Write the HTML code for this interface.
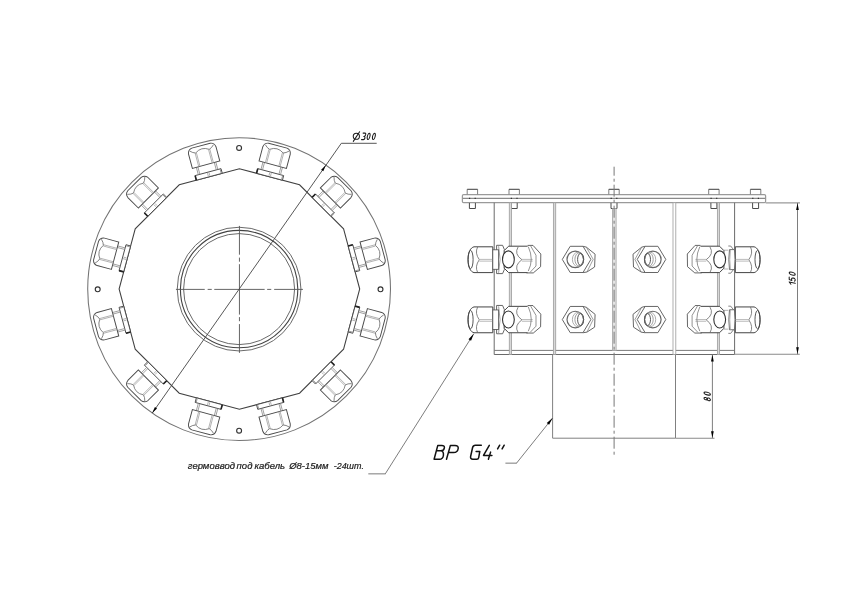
<!DOCTYPE html>
<html><head><meta charset="utf-8"><style>
html,body{margin:0;padding:0;background:#fff;}
body{width:849px;height:600px;overflow:hidden;}
svg{display:block;filter:grayscale(1);}
.t{font-family:"Liberation Sans",sans-serif;font-style:italic;fill:#1a1a1a;stroke:#1a1a1a;stroke-width:0.2;}
</style></head><body>
<svg width="849" height="600" viewBox="0 0 849 600">
<rect width="849" height="600" fill="#fff"/>
<g>
<circle cx="239.1" cy="289.1" r="151.4" fill="none" stroke="#737373" stroke-width="1.050"/>
<circle cx="380.5" cy="289.3" r="2.45" fill="none" stroke="#333" stroke-width="1.150"/>
<circle cx="97.7" cy="289.3" r="2.45" fill="none" stroke="#333" stroke-width="1.150"/>
<circle cx="239.1" cy="430.7" r="2.45" fill="none" stroke="#333" stroke-width="1.150"/>
<circle cx="239.1" cy="147.9" r="2.45" fill="none" stroke="#333" stroke-width="1.150"/>
<polygon points="359.7,289 343.58,228.85 299.55,184.82 239.4,168.7 179.25,184.82 135.22,228.85 119.1,289 135.22,349.15 179.25,393.18 239.4,409.3 299.55,393.18 343.58,349.15" fill="none" stroke="#404040" stroke-width="1.050"/>
<circle cx="239.1" cy="289.1" r="61.85" fill="none" stroke="#6a6a6a" stroke-width="1.000"/>
<circle cx="239.1" cy="289.1" r="58.7" fill="none" stroke="#444" stroke-width="1.100"/>
<circle cx="239.1" cy="289.1" r="55.5" fill="none" stroke="#6a6a6a" stroke-width="1.000"/>
<line x1="175.95" y1="289.4" x2="204.75" y2="289.4" stroke="#555" stroke-width="0.900"/>
<line x1="239.45" y1="225.9" x2="239.45" y2="254.7" stroke="#555" stroke-width="0.900"/>
<line x1="207.65" y1="289.4" x2="211.75" y2="289.4" stroke="#555" stroke-width="0.900"/>
<line x1="239.45" y1="257.6" x2="239.45" y2="261.7" stroke="#555" stroke-width="0.900"/>
<line x1="214.25" y1="289.4" x2="264.65" y2="289.4" stroke="#555" stroke-width="0.900"/>
<line x1="239.45" y1="264.2" x2="239.45" y2="314.6" stroke="#555" stroke-width="0.900"/>
<line x1="267.15" y1="289.4" x2="271.25" y2="289.4" stroke="#555" stroke-width="0.900"/>
<line x1="239.45" y1="317.1" x2="239.45" y2="321.2" stroke="#555" stroke-width="0.900"/>
<line x1="274.15" y1="289.4" x2="302.95" y2="289.4" stroke="#555" stroke-width="0.900"/>
<line x1="239.45" y1="324.1" x2="239.45" y2="352.9" stroke="#555" stroke-width="0.900"/>
<g transform="translate(351.64,258.93) rotate(75)">
<rect x="-13.4" y="-4.8" width="26.8" height="4.8" fill="#fff" stroke="#4a4a4a" stroke-width="0.900"/>
<line x1="-13.4" y1="0" x2="-13.4" y2="-4.8" stroke="#222" stroke-width="1.600"/>
<line x1="12.4" y1="-0.3" x2="12.4" y2="-4.6" stroke="#888" stroke-width="0.800"/>
<line x1="-0.8" y1="-0.8" x2="-0.8" y2="-4" stroke="#999" stroke-width="0.700"/>
<line x1="0.8" y1="-0.8" x2="0.8" y2="-4" stroke="#999" stroke-width="0.700"/>
<path d="M-10.1,-4.8 V-12.5 M-8.5,-4.8 V-12.5 M10.1,-4.8 V-12.5 M8.5,-4.8 V-12.5" stroke="#8a8a8a" stroke-width="0.750" fill="none"/>
<path d="M-14.2,-12.5 L-14.2,-27.3 Q-13.6,-31.6 -9.5,-32.2 L9.5,-32.2 Q13.6,-31.6 14.2,-27.3 L14.2,-12.5 Z" fill="#fff" stroke="#4a4a4a" stroke-width="0.950"/>
<path d="M-7.6,-12.6 V-26.6 M-6.3,-12.6 V-26.3 M7.6,-12.6 V-26.6 M6.3,-12.6 V-26.3" stroke="#9a9a9a" stroke-width="0.700" fill="none"/>
<path d="M-7,-26.5 Q0,-31.4 7,-26.5 M-7,-26.5 Q-9.8,-27.2 -12.3,-29.9 M7,-26.5 Q9.8,-27.2 12.3,-29.9" fill="none" stroke="#666" stroke-width="0.750"/>
</g>
<g transform="translate(321.57,206.83) rotate(45)">
<rect x="-13.4" y="-4.8" width="26.8" height="4.8" fill="#fff" stroke="#4a4a4a" stroke-width="0.900"/>
<line x1="-13.4" y1="0" x2="-13.4" y2="-4.8" stroke="#222" stroke-width="1.600"/>
<line x1="12.4" y1="-0.3" x2="12.4" y2="-4.6" stroke="#888" stroke-width="0.800"/>
<line x1="-0.8" y1="-0.8" x2="-0.8" y2="-4" stroke="#999" stroke-width="0.700"/>
<line x1="0.8" y1="-0.8" x2="0.8" y2="-4" stroke="#999" stroke-width="0.700"/>
<path d="M-10.1,-4.8 V-12.5 M-8.5,-4.8 V-12.5 M10.1,-4.8 V-12.5 M8.5,-4.8 V-12.5" stroke="#8a8a8a" stroke-width="0.750" fill="none"/>
<path d="M-14.2,-12.5 L-14.2,-27.3 Q-13.6,-31.6 -9.5,-32.2 L9.5,-32.2 Q13.6,-31.6 14.2,-27.3 L14.2,-12.5 Z" fill="#fff" stroke="#4a4a4a" stroke-width="0.950"/>
<path d="M-7.6,-12.6 V-26.6 M-6.3,-12.6 V-26.3 M7.6,-12.6 V-26.6 M6.3,-12.6 V-26.3" stroke="#9a9a9a" stroke-width="0.700" fill="none"/>
<path d="M-7,-26.5 Q0,-31.4 7,-26.5 M-7,-26.5 Q-9.8,-27.2 -12.3,-29.9 M7,-26.5 Q9.8,-27.2 12.3,-29.9" fill="none" stroke="#666" stroke-width="0.750"/>
</g>
<g transform="translate(269.48,176.76) rotate(15)">
<rect x="-13.4" y="-4.8" width="26.8" height="4.8" fill="#fff" stroke="#4a4a4a" stroke-width="0.900"/>
<line x1="-13.4" y1="0" x2="-13.4" y2="-4.8" stroke="#222" stroke-width="1.600"/>
<line x1="12.4" y1="-0.3" x2="12.4" y2="-4.6" stroke="#888" stroke-width="0.800"/>
<line x1="-0.8" y1="-0.8" x2="-0.8" y2="-4" stroke="#999" stroke-width="0.700"/>
<line x1="0.8" y1="-0.8" x2="0.8" y2="-4" stroke="#999" stroke-width="0.700"/>
<path d="M-10.1,-4.8 V-12.5 M-8.5,-4.8 V-12.5 M10.1,-4.8 V-12.5 M8.5,-4.8 V-12.5" stroke="#8a8a8a" stroke-width="0.750" fill="none"/>
<path d="M-14.2,-12.5 L-14.2,-27.3 Q-13.6,-31.6 -9.5,-32.2 L9.5,-32.2 Q13.6,-31.6 14.2,-27.3 L14.2,-12.5 Z" fill="#fff" stroke="#4a4a4a" stroke-width="0.950"/>
<path d="M-7.6,-12.6 V-26.6 M-6.3,-12.6 V-26.3 M7.6,-12.6 V-26.6 M6.3,-12.6 V-26.3" stroke="#9a9a9a" stroke-width="0.700" fill="none"/>
<path d="M-7,-26.5 Q0,-31.4 7,-26.5 M-7,-26.5 Q-9.8,-27.2 -12.3,-29.9 M7,-26.5 Q9.8,-27.2 12.3,-29.9" fill="none" stroke="#666" stroke-width="0.750"/>
</g>
<g transform="translate(209.32,176.76) rotate(-15)">
<rect x="-13.4" y="-4.8" width="26.8" height="4.8" fill="#fff" stroke="#4a4a4a" stroke-width="0.900"/>
<line x1="-13.4" y1="0" x2="-13.4" y2="-4.8" stroke="#222" stroke-width="1.600"/>
<line x1="12.4" y1="-0.3" x2="12.4" y2="-4.6" stroke="#888" stroke-width="0.800"/>
<line x1="-0.8" y1="-0.8" x2="-0.8" y2="-4" stroke="#999" stroke-width="0.700"/>
<line x1="0.8" y1="-0.8" x2="0.8" y2="-4" stroke="#999" stroke-width="0.700"/>
<path d="M-10.1,-4.8 V-12.5 M-8.5,-4.8 V-12.5 M10.1,-4.8 V-12.5 M8.5,-4.8 V-12.5" stroke="#8a8a8a" stroke-width="0.750" fill="none"/>
<path d="M-14.2,-12.5 L-14.2,-27.3 Q-13.6,-31.6 -9.5,-32.2 L9.5,-32.2 Q13.6,-31.6 14.2,-27.3 L14.2,-12.5 Z" fill="#fff" stroke="#4a4a4a" stroke-width="0.950"/>
<path d="M-7.6,-12.6 V-26.6 M-6.3,-12.6 V-26.3 M7.6,-12.6 V-26.6 M6.3,-12.6 V-26.3" stroke="#9a9a9a" stroke-width="0.700" fill="none"/>
<path d="M-7,-26.5 Q0,-31.4 7,-26.5 M-7,-26.5 Q-9.8,-27.2 -12.3,-29.9 M7,-26.5 Q9.8,-27.2 12.3,-29.9" fill="none" stroke="#666" stroke-width="0.750"/>
</g>
<g transform="translate(157.23,206.83) rotate(-45)">
<rect x="-13.4" y="-4.8" width="26.8" height="4.8" fill="#fff" stroke="#4a4a4a" stroke-width="0.900"/>
<line x1="-13.4" y1="0" x2="-13.4" y2="-4.8" stroke="#222" stroke-width="1.600"/>
<line x1="12.4" y1="-0.3" x2="12.4" y2="-4.6" stroke="#888" stroke-width="0.800"/>
<line x1="-0.8" y1="-0.8" x2="-0.8" y2="-4" stroke="#999" stroke-width="0.700"/>
<line x1="0.8" y1="-0.8" x2="0.8" y2="-4" stroke="#999" stroke-width="0.700"/>
<path d="M-10.1,-4.8 V-12.5 M-8.5,-4.8 V-12.5 M10.1,-4.8 V-12.5 M8.5,-4.8 V-12.5" stroke="#8a8a8a" stroke-width="0.750" fill="none"/>
<path d="M-14.2,-12.5 L-14.2,-27.3 Q-13.6,-31.6 -9.5,-32.2 L9.5,-32.2 Q13.6,-31.6 14.2,-27.3 L14.2,-12.5 Z" fill="#fff" stroke="#4a4a4a" stroke-width="0.950"/>
<path d="M-7.6,-12.6 V-26.6 M-6.3,-12.6 V-26.3 M7.6,-12.6 V-26.6 M6.3,-12.6 V-26.3" stroke="#9a9a9a" stroke-width="0.700" fill="none"/>
<path d="M-7,-26.5 Q0,-31.4 7,-26.5 M-7,-26.5 Q-9.8,-27.2 -12.3,-29.9 M7,-26.5 Q9.8,-27.2 12.3,-29.9" fill="none" stroke="#666" stroke-width="0.750"/>
</g>
<g transform="translate(127.16,258.92) rotate(-75)">
<rect x="-13.4" y="-4.8" width="26.8" height="4.8" fill="#fff" stroke="#4a4a4a" stroke-width="0.900"/>
<line x1="-13.4" y1="0" x2="-13.4" y2="-4.8" stroke="#222" stroke-width="1.600"/>
<line x1="12.4" y1="-0.3" x2="12.4" y2="-4.6" stroke="#888" stroke-width="0.800"/>
<line x1="-0.8" y1="-0.8" x2="-0.8" y2="-4" stroke="#999" stroke-width="0.700"/>
<line x1="0.8" y1="-0.8" x2="0.8" y2="-4" stroke="#999" stroke-width="0.700"/>
<path d="M-10.1,-4.8 V-12.5 M-8.5,-4.8 V-12.5 M10.1,-4.8 V-12.5 M8.5,-4.8 V-12.5" stroke="#8a8a8a" stroke-width="0.750" fill="none"/>
<path d="M-14.2,-12.5 L-14.2,-27.3 Q-13.6,-31.6 -9.5,-32.2 L9.5,-32.2 Q13.6,-31.6 14.2,-27.3 L14.2,-12.5 Z" fill="#fff" stroke="#4a4a4a" stroke-width="0.950"/>
<path d="M-7.6,-12.6 V-26.6 M-6.3,-12.6 V-26.3 M7.6,-12.6 V-26.6 M6.3,-12.6 V-26.3" stroke="#9a9a9a" stroke-width="0.700" fill="none"/>
<path d="M-7,-26.5 Q0,-31.4 7,-26.5 M-7,-26.5 Q-9.8,-27.2 -12.3,-29.9 M7,-26.5 Q9.8,-27.2 12.3,-29.9" fill="none" stroke="#666" stroke-width="0.750"/>
</g>
<g transform="translate(127.16,319.07) rotate(-105)">
<rect x="-13.4" y="-4.8" width="26.8" height="4.8" fill="#fff" stroke="#4a4a4a" stroke-width="0.900"/>
<line x1="-13.4" y1="0" x2="-13.4" y2="-4.8" stroke="#222" stroke-width="1.600"/>
<line x1="12.4" y1="-0.3" x2="12.4" y2="-4.6" stroke="#888" stroke-width="0.800"/>
<line x1="-0.8" y1="-0.8" x2="-0.8" y2="-4" stroke="#999" stroke-width="0.700"/>
<line x1="0.8" y1="-0.8" x2="0.8" y2="-4" stroke="#999" stroke-width="0.700"/>
<path d="M-10.1,-4.8 V-12.5 M-8.5,-4.8 V-12.5 M10.1,-4.8 V-12.5 M8.5,-4.8 V-12.5" stroke="#8a8a8a" stroke-width="0.750" fill="none"/>
<path d="M-14.2,-12.5 L-14.2,-27.3 Q-13.6,-31.6 -9.5,-32.2 L9.5,-32.2 Q13.6,-31.6 14.2,-27.3 L14.2,-12.5 Z" fill="#fff" stroke="#4a4a4a" stroke-width="0.950"/>
<path d="M-7.6,-12.6 V-26.6 M-6.3,-12.6 V-26.3 M7.6,-12.6 V-26.6 M6.3,-12.6 V-26.3" stroke="#9a9a9a" stroke-width="0.700" fill="none"/>
<path d="M-7,-26.5 Q0,-31.4 7,-26.5 M-7,-26.5 Q-9.8,-27.2 -12.3,-29.9 M7,-26.5 Q9.8,-27.2 12.3,-29.9" fill="none" stroke="#666" stroke-width="0.750"/>
</g>
<g transform="translate(157.23,371.17) rotate(-135)">
<rect x="-13.4" y="-4.8" width="26.8" height="4.8" fill="#fff" stroke="#4a4a4a" stroke-width="0.900"/>
<line x1="-13.4" y1="0" x2="-13.4" y2="-4.8" stroke="#222" stroke-width="1.600"/>
<line x1="12.4" y1="-0.3" x2="12.4" y2="-4.6" stroke="#888" stroke-width="0.800"/>
<line x1="-0.8" y1="-0.8" x2="-0.8" y2="-4" stroke="#999" stroke-width="0.700"/>
<line x1="0.8" y1="-0.8" x2="0.8" y2="-4" stroke="#999" stroke-width="0.700"/>
<path d="M-10.1,-4.8 V-12.5 M-8.5,-4.8 V-12.5 M10.1,-4.8 V-12.5 M8.5,-4.8 V-12.5" stroke="#8a8a8a" stroke-width="0.750" fill="none"/>
<path d="M-14.2,-12.5 L-14.2,-27.3 Q-13.6,-31.6 -9.5,-32.2 L9.5,-32.2 Q13.6,-31.6 14.2,-27.3 L14.2,-12.5 Z" fill="#fff" stroke="#4a4a4a" stroke-width="0.950"/>
<path d="M-7.6,-12.6 V-26.6 M-6.3,-12.6 V-26.3 M7.6,-12.6 V-26.6 M6.3,-12.6 V-26.3" stroke="#9a9a9a" stroke-width="0.700" fill="none"/>
<path d="M-7,-26.5 Q0,-31.4 7,-26.5 M-7,-26.5 Q-9.8,-27.2 -12.3,-29.9 M7,-26.5 Q9.8,-27.2 12.3,-29.9" fill="none" stroke="#666" stroke-width="0.750"/>
</g>
<g transform="translate(209.33,401.24) rotate(-165)">
<rect x="-13.4" y="-4.8" width="26.8" height="4.8" fill="#fff" stroke="#4a4a4a" stroke-width="0.900"/>
<line x1="-13.4" y1="0" x2="-13.4" y2="-4.8" stroke="#222" stroke-width="1.600"/>
<line x1="12.4" y1="-0.3" x2="12.4" y2="-4.6" stroke="#888" stroke-width="0.800"/>
<line x1="-0.8" y1="-0.8" x2="-0.8" y2="-4" stroke="#999" stroke-width="0.700"/>
<line x1="0.8" y1="-0.8" x2="0.8" y2="-4" stroke="#999" stroke-width="0.700"/>
<path d="M-10.1,-4.8 V-12.5 M-8.5,-4.8 V-12.5 M10.1,-4.8 V-12.5 M8.5,-4.8 V-12.5" stroke="#8a8a8a" stroke-width="0.750" fill="none"/>
<path d="M-14.2,-12.5 L-14.2,-27.3 Q-13.6,-31.6 -9.5,-32.2 L9.5,-32.2 Q13.6,-31.6 14.2,-27.3 L14.2,-12.5 Z" fill="#fff" stroke="#4a4a4a" stroke-width="0.950"/>
<path d="M-7.6,-12.6 V-26.6 M-6.3,-12.6 V-26.3 M7.6,-12.6 V-26.6 M6.3,-12.6 V-26.3" stroke="#9a9a9a" stroke-width="0.700" fill="none"/>
<path d="M-7,-26.5 Q0,-31.4 7,-26.5 M-7,-26.5 Q-9.8,-27.2 -12.3,-29.9 M7,-26.5 Q9.8,-27.2 12.3,-29.9" fill="none" stroke="#666" stroke-width="0.750"/>
</g>
<g transform="translate(269.47,401.24) rotate(-195)">
<rect x="-13.4" y="-4.8" width="26.8" height="4.8" fill="#fff" stroke="#4a4a4a" stroke-width="0.900"/>
<line x1="-13.4" y1="0" x2="-13.4" y2="-4.8" stroke="#222" stroke-width="1.600"/>
<line x1="12.4" y1="-0.3" x2="12.4" y2="-4.6" stroke="#888" stroke-width="0.800"/>
<line x1="-0.8" y1="-0.8" x2="-0.8" y2="-4" stroke="#999" stroke-width="0.700"/>
<line x1="0.8" y1="-0.8" x2="0.8" y2="-4" stroke="#999" stroke-width="0.700"/>
<path d="M-10.1,-4.8 V-12.5 M-8.5,-4.8 V-12.5 M10.1,-4.8 V-12.5 M8.5,-4.8 V-12.5" stroke="#8a8a8a" stroke-width="0.750" fill="none"/>
<path d="M-14.2,-12.5 L-14.2,-27.3 Q-13.6,-31.6 -9.5,-32.2 L9.5,-32.2 Q13.6,-31.6 14.2,-27.3 L14.2,-12.5 Z" fill="#fff" stroke="#4a4a4a" stroke-width="0.950"/>
<path d="M-7.6,-12.6 V-26.6 M-6.3,-12.6 V-26.3 M7.6,-12.6 V-26.6 M6.3,-12.6 V-26.3" stroke="#9a9a9a" stroke-width="0.700" fill="none"/>
<path d="M-7,-26.5 Q0,-31.4 7,-26.5 M-7,-26.5 Q-9.8,-27.2 -12.3,-29.9 M7,-26.5 Q9.8,-27.2 12.3,-29.9" fill="none" stroke="#666" stroke-width="0.750"/>
</g>
<g transform="translate(321.57,371.17) rotate(-225)">
<rect x="-13.4" y="-4.8" width="26.8" height="4.8" fill="#fff" stroke="#4a4a4a" stroke-width="0.900"/>
<line x1="-13.4" y1="0" x2="-13.4" y2="-4.8" stroke="#222" stroke-width="1.600"/>
<line x1="12.4" y1="-0.3" x2="12.4" y2="-4.6" stroke="#888" stroke-width="0.800"/>
<line x1="-0.8" y1="-0.8" x2="-0.8" y2="-4" stroke="#999" stroke-width="0.700"/>
<line x1="0.8" y1="-0.8" x2="0.8" y2="-4" stroke="#999" stroke-width="0.700"/>
<path d="M-10.1,-4.8 V-12.5 M-8.5,-4.8 V-12.5 M10.1,-4.8 V-12.5 M8.5,-4.8 V-12.5" stroke="#8a8a8a" stroke-width="0.750" fill="none"/>
<path d="M-14.2,-12.5 L-14.2,-27.3 Q-13.6,-31.6 -9.5,-32.2 L9.5,-32.2 Q13.6,-31.6 14.2,-27.3 L14.2,-12.5 Z" fill="#fff" stroke="#4a4a4a" stroke-width="0.950"/>
<path d="M-7.6,-12.6 V-26.6 M-6.3,-12.6 V-26.3 M7.6,-12.6 V-26.6 M6.3,-12.6 V-26.3" stroke="#9a9a9a" stroke-width="0.700" fill="none"/>
<path d="M-7,-26.5 Q0,-31.4 7,-26.5 M-7,-26.5 Q-9.8,-27.2 -12.3,-29.9 M7,-26.5 Q9.8,-27.2 12.3,-29.9" fill="none" stroke="#666" stroke-width="0.750"/>
</g>
<g transform="translate(351.64,319.07) rotate(-255)">
<rect x="-13.4" y="-4.8" width="26.8" height="4.8" fill="#fff" stroke="#4a4a4a" stroke-width="0.900"/>
<line x1="-13.4" y1="0" x2="-13.4" y2="-4.8" stroke="#222" stroke-width="1.600"/>
<line x1="12.4" y1="-0.3" x2="12.4" y2="-4.6" stroke="#888" stroke-width="0.800"/>
<line x1="-0.8" y1="-0.8" x2="-0.8" y2="-4" stroke="#999" stroke-width="0.700"/>
<line x1="0.8" y1="-0.8" x2="0.8" y2="-4" stroke="#999" stroke-width="0.700"/>
<path d="M-10.1,-4.8 V-12.5 M-8.5,-4.8 V-12.5 M10.1,-4.8 V-12.5 M8.5,-4.8 V-12.5" stroke="#8a8a8a" stroke-width="0.750" fill="none"/>
<path d="M-14.2,-12.5 L-14.2,-27.3 Q-13.6,-31.6 -9.5,-32.2 L9.5,-32.2 Q13.6,-31.6 14.2,-27.3 L14.2,-12.5 Z" fill="#fff" stroke="#4a4a4a" stroke-width="0.950"/>
<path d="M-7.6,-12.6 V-26.6 M-6.3,-12.6 V-26.3 M7.6,-12.6 V-26.6 M6.3,-12.6 V-26.3" stroke="#9a9a9a" stroke-width="0.700" fill="none"/>
<path d="M-7,-26.5 Q0,-31.4 7,-26.5 M-7,-26.5 Q-9.8,-27.2 -12.3,-29.9 M7,-26.5 Q9.8,-27.2 12.3,-29.9" fill="none" stroke="#666" stroke-width="0.750"/>
</g>
<polyline points="152.26,413.12 341.3,143.3 376.7,143.3" fill="none" stroke="#444" stroke-width="0.900"/>
<polygon points="325.94,165.08 323.28,171.15 321.15,169.66" fill="#000"/>
<polygon points="152.26,413.12 154.92,407.05 157.05,408.54" fill="#000"/>
<rect x="462.4" y="194.5" width="303.2" height="8.2" rx="1.2" fill="none" stroke="#9a9a9a" stroke-width="1.250"/>
<line x1="462.8" y1="198.4" x2="765.2" y2="198.4" stroke="#8a8a8a" stroke-width="1.100"/>
<path d="M467.2,194.3 L467.2,189.3 M477.6,189.3 L477.6,194.3" fill="none" stroke="#777" stroke-width="0.950"/>
<line x1="467.2" y1="189.3" x2="477.6" y2="189.3" stroke="#444" stroke-width="1.050"/>
<path d="M469.4,202.9 L469.4,208.5 L475.4,208.5 L475.4,202.9" fill="none" stroke="#4a4a4a" stroke-width="1.000"/>
<line x1="469" y1="198.4" x2="470.2" y2="198.4" stroke="#333" stroke-width="1.300"/>
<line x1="474.6" y1="198.4" x2="475.8" y2="198.4" stroke="#333" stroke-width="1.300"/>
<path d="M509,194.3 L509,189.3 M519.4,189.3 L519.4,194.3" fill="none" stroke="#777" stroke-width="0.950"/>
<line x1="509" y1="189.3" x2="519.4" y2="189.3" stroke="#444" stroke-width="1.050"/>
<path d="M511.2,202.9 L511.2,208.5 L517.2,208.5 L517.2,202.9" fill="none" stroke="#4a4a4a" stroke-width="1.000"/>
<line x1="510.8" y1="198.4" x2="512" y2="198.4" stroke="#333" stroke-width="1.300"/>
<line x1="516.4" y1="198.4" x2="517.6" y2="198.4" stroke="#333" stroke-width="1.300"/>
<path d="M608.8,194.3 L608.8,189.3 M619.2,189.3 L619.2,194.3" fill="none" stroke="#777" stroke-width="0.950"/>
<line x1="608.8" y1="189.3" x2="619.2" y2="189.3" stroke="#444" stroke-width="1.050"/>
<path d="M611,202.9 L611,208.5 L617,208.5 L617,202.9" fill="none" stroke="#4a4a4a" stroke-width="1.000"/>
<line x1="610.6" y1="198.4" x2="611.8" y2="198.4" stroke="#333" stroke-width="1.300"/>
<line x1="616.2" y1="198.4" x2="617.4" y2="198.4" stroke="#333" stroke-width="1.300"/>
<path d="M708.7,194.3 L708.7,189.3 M719.1,189.3 L719.1,194.3" fill="none" stroke="#777" stroke-width="0.950"/>
<line x1="708.7" y1="189.3" x2="719.1" y2="189.3" stroke="#444" stroke-width="1.050"/>
<path d="M710.9,202.9 L710.9,208.5 L716.9,208.5 L716.9,202.9" fill="none" stroke="#4a4a4a" stroke-width="1.000"/>
<line x1="710.5" y1="198.4" x2="711.7" y2="198.4" stroke="#333" stroke-width="1.300"/>
<line x1="716.1" y1="198.4" x2="717.3" y2="198.4" stroke="#333" stroke-width="1.300"/>
<path d="M750.4,194.3 L750.4,189.3 M760.8,189.3 L760.8,194.3" fill="none" stroke="#777" stroke-width="0.950"/>
<line x1="750.4" y1="189.3" x2="760.8" y2="189.3" stroke="#444" stroke-width="1.050"/>
<path d="M752.6,202.9 L752.6,208.5 L758.6,208.5 L758.6,202.9" fill="none" stroke="#4a4a4a" stroke-width="1.000"/>
<line x1="752.2" y1="198.4" x2="753.4" y2="198.4" stroke="#333" stroke-width="1.300"/>
<line x1="757.8" y1="198.4" x2="759" y2="198.4" stroke="#333" stroke-width="1.300"/>
<path d="M494.2,202.7 L494.2,354.5 L734.6,354.5 L734.6,202.7" fill="none" stroke="#6a6a6a" stroke-width="1.000"/>
<line x1="494.2" y1="350.4" x2="734.6" y2="350.4" stroke="#7a7a7a" stroke-width="1.000"/>
<rect x="509.3" y="202.7" width="2.2" height="151.8" fill="#d8d8d8" stroke="#a0a0a0" stroke-width="0.850"/>
<rect x="717.4" y="202.7" width="2.1" height="151.8" fill="#d8d8d8" stroke="#a0a0a0" stroke-width="0.850"/>
<rect x="553.4" y="202.7" width="2.3" height="151.8" fill="#d8d8d8" stroke="#a0a0a0" stroke-width="0.850"/>
<rect x="673.0" y="202.7" width="2.8" height="151.8" fill="#fff" stroke="#a0a0a0" stroke-width="0.850"/>
<rect x="612.6" y="208.6" width="3.5" height="141.8" fill="#e4e4e4" stroke="#a4a4a4" stroke-width="0.850"/>
<path d="M552.6,354.5 L552.6,438.2 L675.5,438.2 L675.5,354.5" fill="none" stroke="#808080" stroke-width="1.000"/>
<line x1="614.1" y1="166.7" x2="614.1" y2="455.5" stroke="#777" stroke-width="1.000" stroke-dasharray="12 3 3 3" stroke-dashoffset="3"/>
<line x1="765.6" y1="202.9" x2="800" y2="202.9" stroke="#9a9a9a" stroke-width="1.200"/>
<line x1="734.6" y1="354.3" x2="799.8" y2="354.3" stroke="#8a8a8a" stroke-width="1.100"/>
<line x1="797.5" y1="202.9" x2="797.5" y2="354.3" stroke="#777" stroke-width="0.950"/>
<polygon points="797.5,203.1 798.85,209.9 796.15,209.9" fill="#000"/>
<polygon points="797.5,354.1 796.15,347.3 798.85,347.3" fill="#000"/>
<line x1="675.6" y1="438.2" x2="714.5" y2="438.2" stroke="#8a8a8a" stroke-width="1.100"/>
<line x1="712.4" y1="354.5" x2="712.4" y2="438.2" stroke="#777" stroke-width="0.950"/>
<polygon points="712.4,354.7 713.75,361.5 711.05,361.5" fill="#000"/>
<polygon points="712.4,438 711.05,431.2 713.75,431.2" fill="#000"/>
<g><path d="M492.8,246.8 L474,246.8 C470.6,247.6 468,252 468,259.7 C468,267.4 470.6,271.8 474,272.6 L492.8,272.6 Z" fill="#fff" stroke="#444" stroke-width="1.000"/>
<ellipse cx="470.6" cy="259.5" rx="2.5" ry="9.1" fill="none" stroke="#444" stroke-width="0.900"/>
<path d="M477.6,247 Q474.6,253 479.3,259.7 Q474.6,266.4 477.6,272.4" fill="none" stroke="#666" stroke-width="0.800"/>
<line x1="479.3" y1="259.4" x2="492.8" y2="259.4" stroke="#aaa" stroke-width="0.800"/>
<line x1="479.3" y1="261.1" x2="492.8" y2="261.1" stroke="#aaa" stroke-width="0.800"/>
<path d="M496.6,245.3 L502.6,245.3 L504.4,249.6 L504.4,269.4 L502.6,273.6 L496.6,273.6 Z" fill="#fff" stroke="#555" stroke-width="0.900"/>
<path d="M498.6,246.2 Q501.6,259.5 498.6,272.8" fill="none" stroke="#888" stroke-width="0.800"/>
<rect x="492.8" y="249.8" width="5.8" height="19.5" fill="#fff" stroke="#555" stroke-width="0.850"/>
<path d="M527.6,246.2 L508.6,246.2 L504.2,250.6 L504.2,268.2 L508.6,272.6 L527.6,272.6" fill="#fff" stroke="#444" stroke-width="1.000"/>
<ellipse cx="508.4" cy="259.4" rx="5.9" ry="8.5" fill="#fff" stroke="#333" stroke-width="1.100"/>
<path d="M518.1,247 Q513.8,254 521.9,259.7 Q513.8,265.4 518.1,272.4" fill="none" stroke="#666" stroke-width="0.800"/>
<line x1="521.9" y1="259.4" x2="532.7" y2="259.4" stroke="#aaa" stroke-width="0.800"/>
<line x1="521.9" y1="261.1" x2="532.7" y2="261.1" stroke="#aaa" stroke-width="0.800"/>
<path d="M527.6,245.4 L533,245.4 L540.8,254 L540.6,266.7 L533.3,272.9 L526.4,272.9" fill="none" stroke="#555" stroke-width="0.900"/>
<path d="M528.3,246.7 Q534.2,259.5 528.3,271" fill="none" stroke="#777" stroke-width="0.800"/>
<path d="M530.7,246 L536,255.3 L536,266 L530.2,272.2" fill="none" stroke="#777" stroke-width="0.800"/>
<path d="M583,246.3 L586.3,247.1 L595.1,254.2 L594.6,267 L586.9,272 L583,272.6" fill="#fff" stroke="#555" stroke-width="0.900"/>
<polygon points="562.3,259.4 570.2,246.3 583,246.3 590.9,259.4 583,272.5 570.2,272.5" fill="#fff" stroke="#555" stroke-width="0.900"/>
<path d="M586.3,247.1 L593.2,259.4 L586.9,272" fill="none" stroke="#777" stroke-width="0.700"/>
<circle cx="575.3" cy="259.4" r="8.3" fill="none" stroke="#666" stroke-width="1.200"/>
<ellipse cx="578" cy="259.4" rx="5.6" ry="7.2" fill="none" stroke="#999" stroke-width="0.800"/>
<ellipse cx="579.2" cy="259.4" rx="4.3" ry="6.6" fill="none" stroke="#888" stroke-width="0.800"/>
<ellipse cx="580.6" cy="259.4" rx="3" ry="6" fill="none" stroke="#555" stroke-width="1.000"/>
<path d="M492.8,306.95 L474,306.95 C470.6,307.75 468,312.15 468,319.85 C468,327.55 470.6,331.95 474,332.75 L492.8,332.75 Z" fill="#fff" stroke="#444" stroke-width="1.000"/>
<ellipse cx="470.6" cy="319.65" rx="2.5" ry="9.1" fill="none" stroke="#444" stroke-width="0.900"/>
<path d="M477.6,307.15 Q474.6,313.15 479.3,319.85 Q474.6,326.55 477.6,332.55" fill="none" stroke="#666" stroke-width="0.800"/>
<line x1="479.3" y1="319.55" x2="492.8" y2="319.55" stroke="#aaa" stroke-width="0.800"/>
<line x1="479.3" y1="321.25" x2="492.8" y2="321.25" stroke="#aaa" stroke-width="0.800"/>
<path d="M496.6,305.45 L502.6,305.45 L504.4,309.75 L504.4,329.55 L502.6,333.75 L496.6,333.75 Z" fill="#fff" stroke="#555" stroke-width="0.900"/>
<path d="M498.6,306.35 Q501.6,319.65 498.6,332.95" fill="none" stroke="#888" stroke-width="0.800"/>
<rect x="492.8" y="309.95" width="5.8" height="19.5" fill="#fff" stroke="#555" stroke-width="0.850"/>
<path d="M527.6,306.35 L508.6,306.35 L504.2,310.75 L504.2,328.35 L508.6,332.75 L527.6,332.75" fill="#fff" stroke="#444" stroke-width="1.000"/>
<ellipse cx="508.4" cy="319.55" rx="5.9" ry="8.5" fill="#fff" stroke="#333" stroke-width="1.100"/>
<path d="M518.1,307.15 Q513.8,314.15 521.9,319.85 Q513.8,325.55 518.1,332.55" fill="none" stroke="#666" stroke-width="0.800"/>
<line x1="521.9" y1="319.55" x2="532.7" y2="319.55" stroke="#aaa" stroke-width="0.800"/>
<line x1="521.9" y1="321.25" x2="532.7" y2="321.25" stroke="#aaa" stroke-width="0.800"/>
<path d="M527.6,305.55 L533,305.55 L540.8,314.15 L540.6,326.85 L533.3,333.05 L526.4,333.05" fill="none" stroke="#555" stroke-width="0.900"/>
<path d="M528.3,306.85 Q534.2,319.65 528.3,331.15" fill="none" stroke="#777" stroke-width="0.800"/>
<path d="M530.7,306.15 L536,315.45 L536,326.15 L530.2,332.35" fill="none" stroke="#777" stroke-width="0.800"/>
<path d="M583,306.45 L586.3,307.25 L595.1,314.35 L594.6,327.15 L586.9,332.15 L583,332.75" fill="#fff" stroke="#555" stroke-width="0.900"/>
<polygon points="562.3,319.55 570.2,306.45 583,306.45 590.9,319.55 583,332.65 570.2,332.65" fill="#fff" stroke="#555" stroke-width="0.900"/>
<path d="M586.3,307.25 L593.2,319.55 L586.9,332.15" fill="none" stroke="#777" stroke-width="0.700"/>
<circle cx="575.3" cy="319.55" r="8.3" fill="none" stroke="#666" stroke-width="1.200"/>
<ellipse cx="578" cy="319.55" rx="5.6" ry="7.2" fill="none" stroke="#999" stroke-width="0.800"/>
<ellipse cx="579.2" cy="319.55" rx="4.3" ry="6.6" fill="none" stroke="#888" stroke-width="0.800"/>
<ellipse cx="580.6" cy="319.55" rx="3" ry="6" fill="none" stroke="#555" stroke-width="1.000"/></g>
<g transform="translate(1228.1,0) scale(-1,1)"><path d="M492.8,246.8 L474,246.8 C470.6,247.6 468,252 468,259.7 C468,267.4 470.6,271.8 474,272.6 L492.8,272.6 Z" fill="#fff" stroke="#444" stroke-width="1.000"/>
<ellipse cx="470.6" cy="259.5" rx="2.5" ry="9.1" fill="none" stroke="#444" stroke-width="0.900"/>
<path d="M477.6,247 Q474.6,253 479.3,259.7 Q474.6,266.4 477.6,272.4" fill="none" stroke="#666" stroke-width="0.800"/>
<line x1="479.3" y1="259.4" x2="492.8" y2="259.4" stroke="#aaa" stroke-width="0.800"/>
<line x1="479.3" y1="261.1" x2="492.8" y2="261.1" stroke="#aaa" stroke-width="0.800"/>
<path d="M493.6,249.6 L498.6,249.6 Q500,259.6 498.6,269.6 L493.6,269.6 Q492.6,259.6 493.6,249.6 Z" fill="#fff" stroke="#555" stroke-width="0.850"/>
<path d="M497.6,249.8 Q499,259.6 497.6,269.4" fill="none" stroke="#999" stroke-width="0.700"/>
<path d="M499.8,246 L497.4,246 L494.6,249.6 M499.8,273.2 L497.4,273.2 L494.6,269.6" fill="none" stroke="#666" stroke-width="0.800"/>
<path d="M499.7,250.2 L504.2,250.2 M499.7,269 L504.2,269" fill="none" stroke="#aaa" stroke-width="0.900"/>
<path d="M527.6,246.2 L508.6,246.2 L504.2,250.6 L504.2,268.2 L508.6,272.6 L527.6,272.6" fill="#fff" stroke="#444" stroke-width="1.000"/>
<ellipse cx="508.4" cy="259.4" rx="5.9" ry="8.5" fill="#fff" stroke="#333" stroke-width="1.100"/>
<path d="M518.1,247 Q513.8,254 521.9,259.7 Q513.8,265.4 518.1,272.4" fill="none" stroke="#666" stroke-width="0.800"/>
<line x1="521.9" y1="259.4" x2="532.7" y2="259.4" stroke="#aaa" stroke-width="0.800"/>
<line x1="521.9" y1="261.1" x2="532.7" y2="261.1" stroke="#aaa" stroke-width="0.800"/>
<path d="M527.6,245.4 L533,245.4 L540.8,254 L540.6,266.7 L533.3,272.9 L526.4,272.9" fill="none" stroke="#555" stroke-width="0.900"/>
<path d="M528.3,246.7 Q534.2,259.5 528.3,271" fill="none" stroke="#777" stroke-width="0.800"/>
<path d="M530.7,246 L536,255.3 L536,266 L530.2,272.2" fill="none" stroke="#777" stroke-width="0.800"/>
<path d="M583,246.3 L586.3,247.1 L595.1,254.2 L594.6,267 L586.9,272 L583,272.6" fill="#fff" stroke="#555" stroke-width="0.900"/>
<polygon points="562.3,259.4 570.2,246.3 583,246.3 590.9,259.4 583,272.5 570.2,272.5" fill="#fff" stroke="#555" stroke-width="0.900"/>
<path d="M586.3,247.1 L593.2,259.4 L586.9,272" fill="none" stroke="#777" stroke-width="0.700"/>
<circle cx="575.3" cy="259.4" r="8.3" fill="none" stroke="#666" stroke-width="1.200"/>
<ellipse cx="578" cy="259.4" rx="5.6" ry="7.2" fill="none" stroke="#999" stroke-width="0.800"/>
<ellipse cx="579.2" cy="259.4" rx="4.3" ry="6.6" fill="none" stroke="#888" stroke-width="0.800"/>
<ellipse cx="580.6" cy="259.4" rx="3" ry="6" fill="none" stroke="#555" stroke-width="1.000"/>
<path d="M492.8,306.95 L474,306.95 C470.6,307.75 468,312.15 468,319.85 C468,327.55 470.6,331.95 474,332.75 L492.8,332.75 Z" fill="#fff" stroke="#444" stroke-width="1.000"/>
<ellipse cx="470.6" cy="319.65" rx="2.5" ry="9.1" fill="none" stroke="#444" stroke-width="0.900"/>
<path d="M477.6,307.15 Q474.6,313.15 479.3,319.85 Q474.6,326.55 477.6,332.55" fill="none" stroke="#666" stroke-width="0.800"/>
<line x1="479.3" y1="319.55" x2="492.8" y2="319.55" stroke="#aaa" stroke-width="0.800"/>
<line x1="479.3" y1="321.25" x2="492.8" y2="321.25" stroke="#aaa" stroke-width="0.800"/>
<path d="M493.6,309.75 L498.6,309.75 Q500,319.75 498.6,329.75 L493.6,329.75 Q492.6,319.75 493.6,309.75 Z" fill="#fff" stroke="#555" stroke-width="0.850"/>
<path d="M497.6,309.95 Q499,319.75 497.6,329.55" fill="none" stroke="#999" stroke-width="0.700"/>
<path d="M499.8,306.15 L497.4,306.15 L494.6,309.75 M499.8,333.35 L497.4,333.35 L494.6,329.75" fill="none" stroke="#666" stroke-width="0.800"/>
<path d="M499.7,310.35 L504.2,310.35 M499.7,329.15 L504.2,329.15" fill="none" stroke="#aaa" stroke-width="0.900"/>
<path d="M527.6,306.35 L508.6,306.35 L504.2,310.75 L504.2,328.35 L508.6,332.75 L527.6,332.75" fill="#fff" stroke="#444" stroke-width="1.000"/>
<ellipse cx="508.4" cy="319.55" rx="5.9" ry="8.5" fill="#fff" stroke="#333" stroke-width="1.100"/>
<path d="M518.1,307.15 Q513.8,314.15 521.9,319.85 Q513.8,325.55 518.1,332.55" fill="none" stroke="#666" stroke-width="0.800"/>
<line x1="521.9" y1="319.55" x2="532.7" y2="319.55" stroke="#aaa" stroke-width="0.800"/>
<line x1="521.9" y1="321.25" x2="532.7" y2="321.25" stroke="#aaa" stroke-width="0.800"/>
<path d="M527.6,305.55 L533,305.55 L540.8,314.15 L540.6,326.85 L533.3,333.05 L526.4,333.05" fill="none" stroke="#555" stroke-width="0.900"/>
<path d="M528.3,306.85 Q534.2,319.65 528.3,331.15" fill="none" stroke="#777" stroke-width="0.800"/>
<path d="M530.7,306.15 L536,315.45 L536,326.15 L530.2,332.35" fill="none" stroke="#777" stroke-width="0.800"/>
<path d="M583,306.45 L586.3,307.25 L595.1,314.35 L594.6,327.15 L586.9,332.15 L583,332.75" fill="#fff" stroke="#555" stroke-width="0.900"/>
<polygon points="562.3,319.55 570.2,306.45 583,306.45 590.9,319.55 583,332.65 570.2,332.65" fill="#fff" stroke="#555" stroke-width="0.900"/>
<path d="M586.3,307.25 L593.2,319.55 L586.9,332.15" fill="none" stroke="#777" stroke-width="0.700"/>
<circle cx="575.3" cy="319.55" r="8.3" fill="none" stroke="#666" stroke-width="1.200"/>
<ellipse cx="578" cy="319.55" rx="5.6" ry="7.2" fill="none" stroke="#999" stroke-width="0.800"/>
<ellipse cx="579.2" cy="319.55" rx="4.3" ry="6.6" fill="none" stroke="#888" stroke-width="0.800"/>
<ellipse cx="580.6" cy="319.55" rx="3" ry="6" fill="none" stroke="#555" stroke-width="1.000"/></g>
<line x1="368.3" y1="473.8" x2="385.6" y2="473.8" stroke="#a0a0a0" stroke-width="1.400"/>
<line x1="385.3" y1="473.8" x2="473.8" y2="333.7" stroke="#666" stroke-width="0.850"/>
<polygon points="473.8,333.7 471.06,340.84 468.53,339.24" fill="#000"/>
<line x1="505.4" y1="463.2" x2="516.8" y2="463.2" stroke="#a0a0a0" stroke-width="1.400"/>
<line x1="516.5" y1="463.2" x2="552.6" y2="418" stroke="#666" stroke-width="0.850"/>
<polygon points="552.6,418 549.09,424.8 546.75,422.92" fill="#000"/>
<path d="M437.8,445.4 L434.1,459.3 L439.5,459.3 Q442.8,459.3 443.4,455.5 Q443.9,450.9 440.8,450.8 L436.6,450.8 M440.8,450.8 Q443.9,450.7 444.4,447.8 Q444.6,445.4 441.8,445.4 L437.8,445.4 M446.5,459.3 L450.4,445.4 L455,445.4 Q458.6,445.4 458.2,448.5 Q457.6,452.6 453.6,452.6 L448.6,452.6 M481.3,445.3 L475.4,445.3 Q473.2,445.3 472.6,447.5 L470.6,456.5 Q470.2,459.2 472.8,459.2 L476.8,459.2 Q478.4,459.2 478.7,457.6 L479.8,451.4 L476.1,451.4 M489.3,445.4 L483.5,455.4 L491.9,455.4 M490.6,452.1 L488.4,459.3 M499.7,445.2 L497.6,448.9 M504.2,445.2 L502.1,448.9" fill="none" stroke="#111" stroke-width="1.5" stroke-linecap="round" stroke-linejoin="round"/>
<g fill="none" stroke="#1a1a1a" stroke-width="1.05" stroke-linecap="round" stroke-linejoin="round"><circle cx="356.35" cy="136.25" r="3.1"/><path d="M359.6,131.8 L353.3,141.4 M363.1,133.1 L365,133.1 Q366,133.2 365.7,134.4 L365.4,135.4 Q365.1,136.4 363.8,136.4 M364.2,136.4 Q365.2,136.6 364.9,138 L364.7,138.8 Q364.4,139.6 363.5,139.6 L361.5,139.6"/><ellipse cx="0" cy="0" rx="1.3" ry="3.2" transform="translate(368.65,136.35) skewX(-12)"/><ellipse cx="0" cy="0" rx="1.3" ry="3.2" transform="translate(373.9,136.35) skewX(-12)"/></g>
<text x="187.8" y="468.8" class="t" font-size="9.2" textLength="47.2" lengthAdjust="spacingAndGlyphs">гермоввод</text>
<text x="236.6" y="468.8" class="t" font-size="9.2" textLength="15.8" lengthAdjust="spacingAndGlyphs">под</text>
<text x="254.5" y="468.8" class="t" font-size="9.2" textLength="30.6" lengthAdjust="spacingAndGlyphs">кабель</text>
<text x="289.2" y="468.8" class="t" font-size="9.2" textLength="39.3" lengthAdjust="spacingAndGlyphs">Ø8-15мм</text>
<text x="333.7" y="468.8" class="t" font-size="9.2" textLength="30.2" lengthAdjust="spacingAndGlyphs">-24шт.</text>
<g transform="translate(795.2,284.6) rotate(-90) skewX(-13)" fill="none" stroke="#1a1a1a" stroke-width="1.05" stroke-linecap="round" stroke-linejoin="round"><path d="M-0.63,-4.32 L1.26,-6 L1.26,0"/><path d="M6.1,-6 L3.72,-6 L3.4,-3.36 Q4.48,-3.72 5.07,-3.6 Q6.1,-3.3 6.1,-1.68 Q6.1,0 4.62,0 Q3.67,0 3.26,-0.72"/><ellipse cx="10.25" cy="-3" rx="1.35" ry="3"/></g>
<g transform="translate(710.4,401.6) rotate(-90) skewX(-13)" fill="none" stroke="#1a1a1a" stroke-width="1.05" stroke-linecap="round" stroke-linejoin="round"><ellipse cx="1.85" cy="-4.83" rx="1.12" ry="1.57"/><ellipse cx="1.85" cy="-1.63" rx="1.3" ry="1.63"/><ellipse cx="7.3" cy="-3.2" rx="1.3" ry="3.2"/></g>
</g>
</svg>
</body></html>
